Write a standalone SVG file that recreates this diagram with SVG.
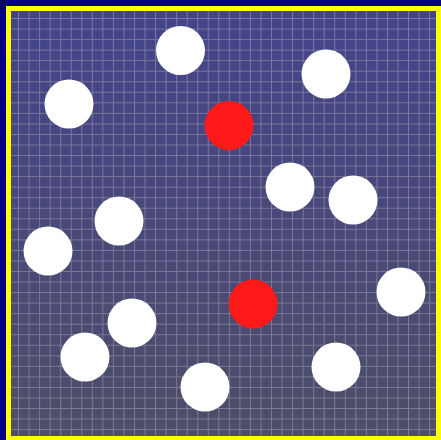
<svg xmlns="http://www.w3.org/2000/svg" width="441" height="440" viewBox="0 0 441 440">
<defs>
<linearGradient id="bg" x1="0" y1="0" x2="0" y2="1">
<stop offset="0" stop-color="#43438c"/>
<stop offset="1" stop-color="#4e4e68"/>
</linearGradient>
<pattern id="grid" x="7.5" y="7.5" width="10.54" height="10.54" patternUnits="userSpaceOnUse">
<path d="M0.5 0V10.54M0 0.5H10.54" stroke="#8e8ea4" stroke-width="1" fill="none" opacity="0.7"/>
</pattern>
</defs>
<style>
.w{fill:#ffffff}
.r{fill:#ff1a1a}
</style>
<rect x="0" y="0" width="441" height="440" fill="#000080"/>
<rect x="8.5" y="8.5" width="430" height="430" fill="url(#bg)"/>
<rect x="8.5" y="8.5" width="430" height="430" fill="url(#grid)"/>
<rect x="8.5" y="8.5" width="430" height="430" fill="none" stroke="#ffff00" stroke-width="5"/>
<g id="connectors"/>
<g id="n1"><circle class="w" cx="180.5" cy="50.5" r="24.5"/></g>
<g id="n2"><circle class="w" cx="326" cy="74" r="24.5"/></g>
<g id="n3"><circle class="w" cx="69" cy="104" r="24.5"/></g>
<g id="n4"><circle class="r" cx="229" cy="125.5" r="24.5"/></g>
<g id="n5"><circle class="w" cx="290" cy="187" r="24.5"/></g>
<g id="n6"><circle class="w" cx="353" cy="200" r="24.5"/></g>
<g id="n7"><circle class="w" cx="119" cy="221" r="24.5"/></g>
<g id="n8"><circle class="w" cx="48" cy="251" r="24.5"/></g>
<g id="n9"><circle class="r" cx="253" cy="304" r="24.5"/></g>
<g id="n10"><circle class="w" cx="401" cy="292" r="24.5"/></g>
<g id="n11"><circle class="w" cx="132" cy="323" r="24.5"/></g>
<g id="n12"><circle class="w" cx="85" cy="357" r="24.5"/></g>
<g id="n13"><circle class="w" cx="205" cy="387" r="24.5"/></g>
<g id="n14"><circle class="w" cx="336" cy="367" r="24.5"/></g>
</svg>
